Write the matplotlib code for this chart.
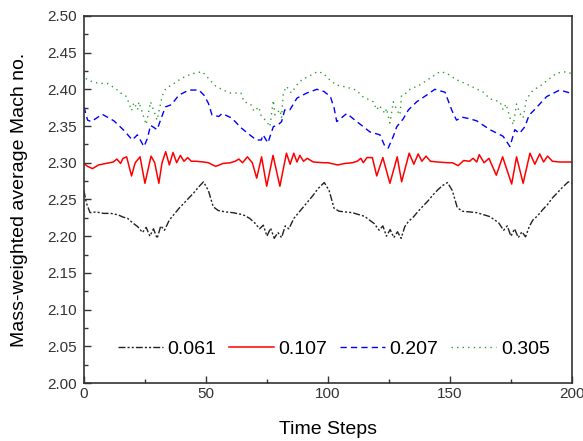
import matplotlib
matplotlib.use("Agg")
import matplotlib.pyplot as plt
from matplotlib.ticker import MultipleLocator

plt.rcParams["font.family"] = ["Liberation Sans", "DejaVu Sans"]

# Mach 0.061 (black)
x_061 = [0, 1, 2.5, 5, 8, 11, 14, 16, 18, 20, 22, 24, 25.5, 27, 28.5, 30, 31.5, 33, 35, 37, 39, 41, 43, 45, 47, 49,
         51, 53, 55, 58, 61, 64, 66, 68, 70, 72, 73.5, 75, 76.5, 78, 79.5, 81, 82.5, 84, 86, 88, 90, 92, 94, 96, 98.5,
         100.5, 102.5, 104.5, 107, 110, 113, 115, 117, 119, 121, 122.5, 124, 125.5, 127, 128.5, 130, 131.5, 133, 135,
         137, 139, 141, 143, 145, 147, 149,
         151, 153, 155, 158, 161, 164, 166, 168, 170, 172, 173.5, 175, 176.5, 178, 179.5, 181, 182.5, 184, 186, 188,
         190, 192, 194, 196, 198.5, 200]
y_061 = [2.262, 2.245, 2.232, 2.233, 2.231, 2.231, 2.229, 2.226, 2.224, 2.218, 2.213, 2.205, 2.212, 2.200, 2.210,
         2.197, 2.214, 2.208, 2.222, 2.230, 2.238, 2.245, 2.252, 2.259, 2.267, 2.274,
         2.262, 2.240, 2.235, 2.233, 2.232, 2.230, 2.228, 2.224, 2.218, 2.210, 2.215, 2.200, 2.211, 2.197, 2.205,
         2.198, 2.214, 2.210, 2.224, 2.232, 2.240, 2.248, 2.256, 2.265, 2.273,
         2.262, 2.238, 2.234, 2.233, 2.232, 2.229, 2.227, 2.222, 2.217, 2.208, 2.214, 2.200, 2.209, 2.198, 2.206,
         2.197, 2.213, 2.220, 2.226, 2.234, 2.241, 2.248, 2.256, 2.263, 2.269, 2.273,
         2.262, 2.239, 2.234, 2.233, 2.232, 2.229, 2.227, 2.223, 2.218, 2.208, 2.214, 2.200, 2.210, 2.198, 2.206,
         2.199, 2.213, 2.222, 2.228, 2.236, 2.243, 2.252, 2.259, 2.266, 2.274, 2.272]

# Mach 0.107 (red)
x_107 = [0, 1.5, 3.5, 6, 9, 12, 13.5, 15, 16, 17.5, 19.5, 21, 23, 25, 27.5, 29, 30.7, 32, 33.5, 35, 36.5, 38, 39.5,
         41, 42.5, 44, 46, 49,
         51, 54, 57, 60, 62, 63.5, 65, 67, 69, 70.8, 72.8, 74.9, 77.5, 80.3, 83, 84.5, 86, 87.3, 88.5, 90, 91.5, 94, 98,
         100, 104, 107, 110, 112, 113.5, 114.5, 116, 118.2, 120, 122.5, 125.4, 128.4, 130.2, 133.3, 135.2, 137, 138.5,
         140.2, 142, 145, 149,
         151, 153.4, 155.6, 158, 159.5, 161, 162, 164, 166, 169, 171.6, 175.3, 177.3, 180, 182.8, 184.8, 186.8, 188.4,
         190, 192, 195, 200]
y_107 = [2.299, 2.295, 2.292, 2.297, 2.299, 2.301, 2.305, 2.299, 2.306, 2.308, 2.282, 2.300, 2.308, 2.272, 2.309,
         2.300, 2.272, 2.300, 2.315, 2.297, 2.314, 2.300, 2.310, 2.302, 2.307, 2.302, 2.302, 2.301,
         2.300, 2.295, 2.299, 2.300, 2.302, 2.305, 2.300, 2.308, 2.300, 2.279, 2.308, 2.268, 2.310, 2.268, 2.313,
         2.298, 2.313, 2.301, 2.310, 2.302, 2.306, 2.301, 2.300,
         2.300, 2.297, 2.299, 2.300, 2.302, 2.306, 2.300, 2.307, 2.307, 2.282, 2.307, 2.272, 2.308, 2.274, 2.313,
         2.298, 2.312, 2.302, 2.309, 2.302, 2.301, 2.300,
         2.300, 2.296, 2.303, 2.302, 2.306, 2.301, 2.311, 2.300, 2.306, 2.283, 2.308, 2.271, 2.308, 2.272, 2.313,
         2.298, 2.312, 2.301, 2.309, 2.302, 2.301, 2.301]

# Mach 0.207 (blue)
x_207 = [0, 1.5, 3, 7.5, 12.3, 16.4, 19.8, 21.9, 24.6, 26, 27.3, 30, 31.7, 33.4, 35.8, 38.9, 43, 47.1, 49.2,
         51, 52.5, 55.3, 56.6, 60.5, 64.6, 68.7, 70.7, 72.7, 73.4, 75.4, 77.6, 79.7, 81, 82.3, 84.4, 87.3, 91.4, 95.5,
         98.4, 101, 102.5, 103.6, 107.7, 113, 117.2, 121.3, 123.4, 124.7, 126.8, 128.2, 130.9, 133, 136.4, 140.4, 143.8,
         148, 150.7, 152.7, 155, 158, 161, 166.4, 171.8, 174.6, 176.6, 178.5, 180.7, 182.5, 184.6, 189.6, 195, 199.2,
         200]
y_207 = [2.376, 2.358, 2.356, 2.366, 2.357, 2.344, 2.331, 2.338, 2.322, 2.333, 2.351, 2.345, 2.361, 2.376, 2.379,
         2.392, 2.399, 2.399, 2.392,
         2.381, 2.365, 2.363, 2.367, 2.361, 2.347, 2.336, 2.331, 2.331, 2.338, 2.327, 2.349, 2.352, 2.356, 2.372,
         2.372, 2.388, 2.395, 2.400, 2.397,
         2.390, 2.375, 2.356, 2.367, 2.353, 2.342, 2.338, 2.322, 2.320, 2.336, 2.349, 2.360, 2.372, 2.383, 2.392,
         2.400, 2.396, 2.372, 2.358, 2.362, 2.360, 2.357, 2.345, 2.336, 2.322, 2.345, 2.340, 2.349, 2.365, 2.372,
         2.390, 2.399, 2.395, 2.392]

# Mach 0.305 (green)
x_305 = [0, 1, 3, 6, 9.5, 13, 15, 17.5, 19.5, 20.5, 22, 22.5, 25.5, 27.3, 30, 32, 33.5, 36, 40, 44, 48.5,
         51, 53.7, 57, 60, 64.3, 65.6, 68.3, 69.7, 71.7, 72.5, 74.9, 76.2, 77.6, 78.3, 80.3, 81, 81.7, 83, 85, 87.3,
         89.3, 92.9, 95.6, 98,
         100.7, 103.4, 107.5, 111.6, 114.3, 118.6, 120, 121, 123.4, 124, 125.4, 126.8, 128.2, 129.5, 130.2, 132.2,
         133.6, 137.7, 141.8, 145.9, 148.6,
         152.7, 158.2, 163.7, 166.4, 170.5, 171.8, 173, 174.6, 176, 177.3, 178.7, 180, 181.4, 184.1, 186.8, 191, 193.7,
         197.8, 200]
y_305 = [2.422, 2.414, 2.411, 2.408, 2.408, 2.401, 2.395, 2.390, 2.371, 2.382, 2.372, 2.383, 2.352, 2.383, 2.358,
         2.390, 2.401, 2.406, 2.415, 2.421, 2.424,
         2.415, 2.405, 2.399, 2.395, 2.395, 2.383, 2.380, 2.370, 2.376, 2.365, 2.356, 2.349, 2.385, 2.365, 2.372,
         2.361, 2.395, 2.404, 2.395, 2.406, 2.413, 2.419, 2.424, 2.422,
         2.413, 2.406, 2.403, 2.399, 2.390, 2.383, 2.372, 2.378, 2.367, 2.374, 2.354, 2.383, 2.372, 2.365, 2.392,
         2.395, 2.400, 2.406, 2.415, 2.424, 2.422,
         2.413, 2.405, 2.396, 2.387, 2.383, 2.372, 2.380, 2.361, 2.352, 2.380, 2.367, 2.361, 2.387, 2.399, 2.404,
         2.415, 2.422, 2.424, 2.421]

labels = ["0.061", "0.107", "0.207", "0.305"]

fig = plt.figure(figsize=(5.83, 4.41), dpi=100)
ax = fig.add_axes([0.144, 0.1315, 0.837, 0.8325])

ax.plot(x_061, y_061, color="#222222", lw=1.0, linestyle=(0, (5, 1.5, 1.5, 1.5, 1.5, 1.5)), label=labels[0])
ax.plot(x_107, y_107, color="#ff0000", lw=1.1, linestyle="-", label=labels[1])
ax.plot(x_207, y_207, color="#0000ff", lw=1.0, linestyle=(0, (4.5, 3)), label=labels[2])
ax.plot(x_305, y_305, color="#2ca02c", lw=1.0, linestyle=(0, (1, 3)), label=labels[3])

ax.set_xlim(0, 200)
ax.set_ylim(2.0, 2.5)
ax.xaxis.set_major_locator(MultipleLocator(50))
ax.xaxis.set_minor_locator(MultipleLocator(25))
ax.yaxis.set_major_locator(MultipleLocator(0.05))
ax.yaxis.set_minor_locator(MultipleLocator(0.025))
ax.yaxis.set_major_formatter(plt.FormatStrFormatter("%.2f"))
ax.tick_params(which="both", direction="in", top=False, right=False, labelsize=11, colors="#333333")
ax.tick_params(which="major", length=5, width=1)
ax.tick_params(which="minor", length=3, width=1)
ax.tick_params(axis="y", pad=5)
ax.tick_params(axis="x", pad=3)
for s in ax.spines.values():
    s.set_linewidth(1.2)
    s.set_color("#333333")

ax.set_xlabel("Time Steps", fontsize=14, labelpad=14)
ax.set_ylabel("Mass-weighted average Mach no.", fontsize=14, labelpad=14)

ax.legend(loc="center", bbox_to_anchor=(0.512, 0.093), ncol=4, frameon=False, fontsize=14,
          handlelength=2.3, columnspacing=0.65, handletextpad=0.25)

fig.savefig("out.png", dpi=100)
